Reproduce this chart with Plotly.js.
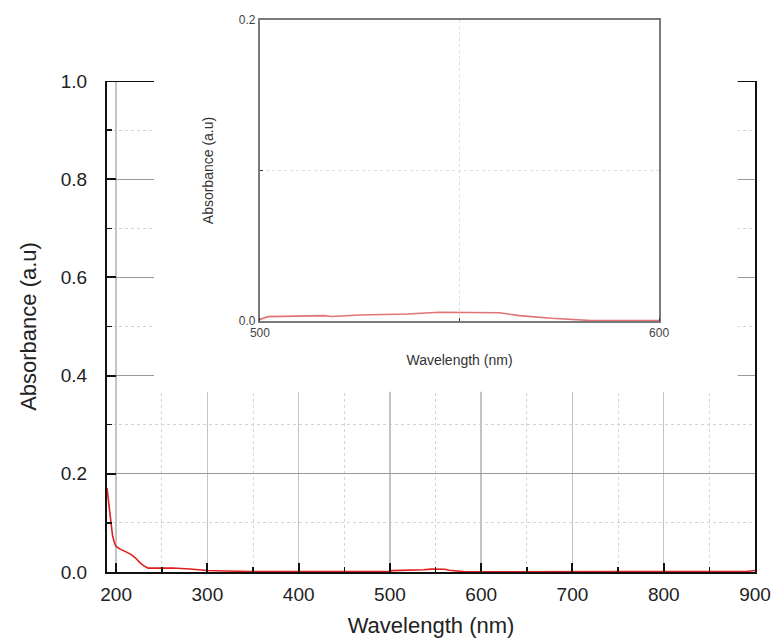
<!DOCTYPE html>
<html><head><meta charset="utf-8">
<script src="https://cdn.plot.ly/plotly-3.0.1.min.js"></script>
<style>html,body{margin:0;padding:0;background:#fff}</style>
</head><body><div id="chart" style="width:776px;height:643px"></div>
<script>
// UV-Vis absorbance spectrum
const wavelength = [190,193,196,198,200,204,208,212,217,221,226,230,235,245,262,281,300,320,350,400,450,480,500,502,515,516,518,525,537,545,560,565,573,583,600,650,700,750,800,850,890,900];
const absorbance = [0.171,0.12,0.075,0.06,0.052,0.047,0.044,0.040,0.035,0.029,0.019,0.013,0.008,0.008,0.008,0.006,0.003,0.002,0.001,0.001,0.001,0.001,0.001,0.0029,0.0033,0.0036,0.0030,0.0040,0.0047,0.0058,0.0055,0.0036,0.0018,0.0003,0.0003,0.001,0.001,0.001,0.001,0.001,0.001,0.003];

const mainXTicks = [200,300,400,500,600,700,800,900];
const mainYTicks = [0.0,0.2,0.4,0.6,0.8,1.0];
const mainYLabels = ["0.0","0.2","0.4","0.6","0.8","1.0"];
const insetXTicks = [500,600];
const insetYTicks = [0.0,0.2];
const insetYLabels = ["0.0","0.2"];

const xTitle = "Wavelength (nm)";
const yTitle = "Absorbance (a.u)";

const FONT = "Liberation Sans, Arial, sans-serif";

const traces = [
  {x: wavelength, y: absorbance, type: 'scatter', mode: 'lines', xaxis: 'x', yaxis: 'y',
   line: {color: '#e01e1e', width: 1.6}, hoverinfo: 'skip'},
  {x: wavelength, y: absorbance, type: 'scatter', mode: 'lines', xaxis: 'x2', yaxis: 'y2',
   line: {color: '#e07474', width: 1.6}, hoverinfo: 'skip'}
];

const layout = {
  width: 776, height: 643,
  margin: {l: 107, r: 21, t: 20, b: 71},
  paper_bgcolor: '#fff', plot_bgcolor: 'rgba(0,0,0,0)',
  showlegend: false,
  font: {family: FONT, color: '#222'},
  xaxis: {
    domain: [0, 1], range: [190, 900], anchor: 'y',
    tickvals: mainXTicks, ticktext: mainXTicks.map(String),
    ticks: 'inside', ticklen: 9, tickwidth: 2, tickcolor: '#111',
    showline: true, linecolor: '#111', linewidth: 2, mirror: false,
    showgrid: true, gridcolor: '#c4c4c4', gridwidth: 1.5,
    minor: {dtick: 50, tick0: 250, ticks: 'inside', ticklen: 5, tickwidth: 1.5, tickcolor: '#111', showgrid: true, gridcolor: '#d4d4d4', griddash: 'dot', gridwidth: 1},
    tickfont: {size: 19, color: '#222'},
    ticklabelstandoff: 4,
    title: {text: xTitle, font: {size: 22, color: '#222'}, standoff: 14},
    zeroline: false, fixedrange: true
  },
  yaxis: {
    domain: [0, 0.8895], range: [0, 1], anchor: 'x',
    tickvals: mainYTicks, ticktext: mainYLabels,
    ticks: 'inside', ticklen: 9, tickwidth: 2, tickcolor: '#111',
    showline: true, linecolor: '#111', linewidth: 2, mirror: true,
    showgrid: true, gridcolor: '#9a9a9a', gridwidth: 1,
    minor: {dtick: 0.2, tick0: 0.1, ticks: 'inside', ticklen: 5, tickwidth: 1.5, tickcolor: '#111', showgrid: true, gridcolor: '#d4d4d4', griddash: 'dot', gridwidth: 1},
    tickfont: {size: 19, color: '#222'},
    ticklabelstandoff: 14,
    title: {text: yTitle, font: {size: 22, color: '#222'}, standoff: 18},
    zeroline: false, fixedrange: true
  },
  xaxis2: {
    domain: [0.236, 0.852], range: [500, 600], anchor: 'y2',
    tickvals: insetXTicks, ticktext: insetXTicks.map(String),
    ticks: '', showline: true, linecolor: '#7a7a7a', linewidth: 2, mirror: true,
    showgrid: false,
    minor: {dtick: 50, tick0: 550, ticks: 'inside', ticklen: 3, tickwidth: 1, tickcolor: '#333', showgrid: true, gridcolor: '#dddddd', griddash: 'dot', gridwidth: 1},
    tickfont: {size: 12, color: '#444'},
    title: {text: xTitle, font: {size: 14, color: '#333'}, standoff: 16},
    zeroline: false, fixedrange: true
  },
  yaxis2: {
    domain: [0.4547, 1], range: [0, 0.2], anchor: 'x2',
    tickvals: insetYTicks, ticktext: insetYLabels,
    ticks: '', showline: true, linecolor: '#7a7a7a', linewidth: 2, mirror: true,
    showgrid: false,
    minor: {dtick: 0.2, tick0: 0.1, ticks: 'inside', ticklen: 3, tickwidth: 1, tickcolor: '#333', showgrid: true, gridcolor: '#dddddd', griddash: 'dot', gridwidth: 1},
    tickfont: {size: 12, color: '#444'},
    title: {text: yTitle, font: {size: 14, color: '#333'}, standoff: 22},
    zeroline: false, fixedrange: true
  },
  shapes: [
    {type: 'rect', xref: 'x', yref: 'y', x0: 241.5, x1: 881, y0: 0.367, y1: 1.0,
     fillcolor: '#ffffff', line: {width: 0}, layer: 'between'},
    {type: 'line', xref: 'x', yref: 'y', x0: 190, x1: 241.5, y0: 1, y1: 1,
     line: {color: '#111', width: 2}, layer: 'above'},
    {type: 'line', xref: 'x', yref: 'y', x0: 881, x1: 900, y0: 1, y1: 1,
     line: {color: '#111', width: 2}, layer: 'above'}
  ]
};

Plotly.newPlot('chart', traces, layout, {displayModeBar: false, staticPlot: true});
</script>
</body></html>
